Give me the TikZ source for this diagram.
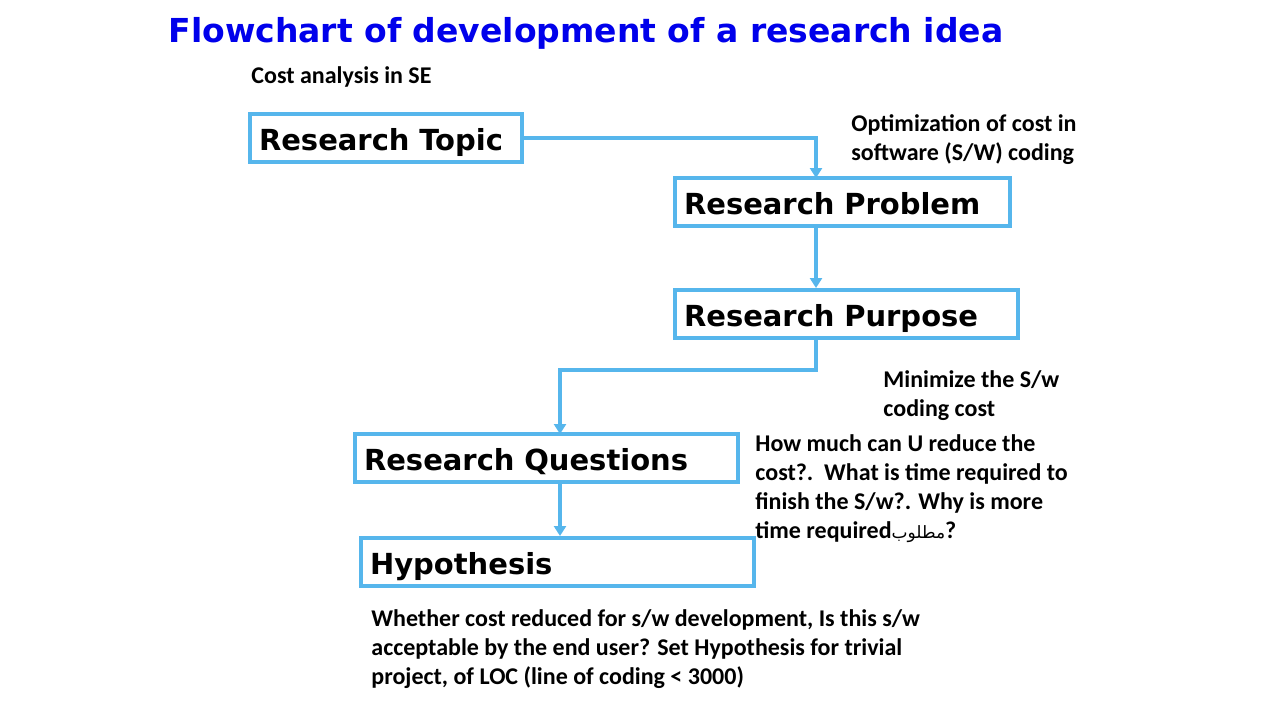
\documentclass[tikz,border=0pt]{standalone}
\usepackage{fontspec}
\setmainfont{Carlito}
\newfontfamily\boxfont{DejaVu Sans}
\newfontfamily\arabicfont[Script=Arabic]{DejaVu Sans}
\TeXXeTstate=1
\usetikzlibrary{arrows.meta}
\definecolor{linkblue}{RGB}{86,182,236}
\definecolor{titleblue}{RGB}{0,0,235}

\tikzset{
  ideabox/.style={draw=linkblue, line width=2pt, inner xsep=4.5pt, inner ysep=0pt,
    minimum height=24pt, text width=#1, align=left, anchor=west,
    text height=13pt, text depth=1pt,
    font=\boxfont\bfseries\fontsize{14.5}{16}\selectfont},
  note/.style={anchor=base west, inner sep=0pt, align=left,
    font=\bfseries\fontsize{12}{14.5}\selectfont},
  link/.style={draw=linkblue, line width=2pt},
  tip/.style={-{Triangle[length=5pt,width=6pt]}}
}

\begin{document}
\begin{tikzpicture}[x=0.5pt, y=-0.5pt]
      \useasboundingbox (0,0) rectangle (1280,720);
      % \draw[help lines] (0,0) grid[step=100] (1280,720);

      \node[anchor=base, inner sep=0pt, text=titleblue,
        font=\boxfont\bfseries\fontsize{16.5}{20}\selectfont] (title) at (586,42)
        {Flowchart of development of a research idea};

      \node[ideabox=127pt] (topic) at (248,138) {Research Topic};
      \node[ideabox=158.5pt] (prob) at (673,202) {Research Problem};
      \node[ideabox=162.5pt] (purp) at (673,314) {Research Purpose};
      \node[ideabox=182.5pt] (ques) at (353,458) {Research Questions};
      \node[ideabox=187.5pt] (hyp) at (359,562) {Hypothesis};

      \coordinate (pa) at (816,178);
      \coordinate (qa) at (560,434);

      \draw[link, tip] (topic.east) -| (pa);
      \draw[link, tip] (prob.south -| pa) -- (purp.north -| pa);
      \draw[link, tip] (purp.south -| pa) -- ++(0,30) -| (qa);
      \draw[link, tip] (ques.south -| qa) -- (hyp.north -| qa);

      % base of a note = baseline of its last line
      \node[note] (topicnote) at (251,83) {Cost analysis in SE};
      \node[note] (probnote) at (851,160) {Optimization of cost in\\software (S/W) coding};
      \node[note] (purpnote) at (883,416) {Minimize the S/w\\coding cost};
      \node[note] (quesnote) at (755,538) {How much can U reduce the\\cost?.~~What is time required to\\finish the S/w?. Why is more\\time required{\arabicfont\mdseries\fontsize{8.5}{10}\selectfont\beginR مطلوب\endR}?};
      \node[note] (hypnote) at (371,684) {Whether cost reduced for s/w development, Is this s/w\\acceptable by the end user? Set Hypothesis for trivial\\project, of LOC (line of coding {\textless} 3000)};

\end{tikzpicture}
\end{document}
